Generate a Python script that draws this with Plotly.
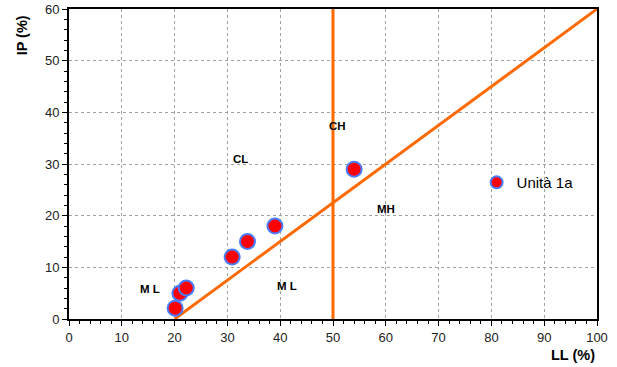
import plotly.graph_objects as go

# Data
ll_values = [20.1, 21.0, 22.2, 30.9, 33.8, 39.0, 54.0]
ip_values = [2.1, 5.0, 6.0, 12.0, 15.0, 18.0, 29.0]
series_name = "Unità 1a"

a_line_x = [20, 100]
a_line_y = [0, 60]
b_line_x = [50, 50]
b_line_y = [0, 60]

zone_labels = ["CL", "CH", "MH", "M L", "M L"]
zone_x = [32.5, 50.8, 60.0, 15.3, 41.3]
zone_y = [31.0, 37.3, 21.3, 5.9, 6.4]

x_ticks = list(range(0, 101, 10))
y_ticks = list(range(0, 61, 10))

orange = "#FF6A00"
font_family = "Liberation Sans, Arial, sans-serif"

fig = go.Figure()
fig.add_trace(go.Scatter(x=a_line_x, y=a_line_y, mode="lines",
                         line=dict(color=orange, width=3), showlegend=False, hoverinfo="skip"))
fig.add_trace(go.Scatter(x=b_line_x, y=b_line_y, mode="lines",
                         line=dict(color=orange, width=3), showlegend=False, hoverinfo="skip"))
fig.add_trace(go.Scatter(x=ll_values, y=ip_values, mode="markers", name=series_name,
                         marker=dict(color="#FF0000", size=15,
                                     line=dict(color="#4A7CFF", width=2))))

for t, x, y in zip(zone_labels, zone_x, zone_y):
    fig.add_annotation(x=x, y=y, text="<b>" + t + "</b>",
                       showarrow=False, font=dict(size=11.5, color="black", family=font_family))

axis_common = dict(
    showline=True, linecolor="black", linewidth=2, mirror=True,
    showgrid=True, gridcolor="#a0a0a0", griddash="dot", gridwidth=1,
    ticks="outside", ticklen=5, tickcolor="black", tickwidth=1,
    zeroline=False,
    tickfont=dict(size=13, color="#222", family=font_family),
)

fig.update_xaxes(range=[0, 100], tickvals=x_ticks,
                 minor=dict(dtick=2, ticks="outside", ticklen=3, tickcolor="black", showgrid=False),
                 **axis_common)
fig.update_yaxes(range=[0, 60], tickvals=y_ticks,
                 minor=dict(dtick=2, ticks="outside", ticklen=3, tickcolor="black", showgrid=False),
                 **axis_common)

fig.add_annotation(xref="paper", yref="paper", x=1.0, y=-0.085, xanchor="right", yanchor="top",
                   text="<b>LL (%)</b>", showarrow=False,
                   font=dict(size=14.5, color="black", family=font_family))
fig.add_annotation(xref="paper", yref="paper", x=-0.089, y=0.915, xanchor="center", yanchor="middle",
                   text="<b>IP (%)</b>", textangle=-90, showarrow=False,
                   font=dict(size=14.5, color="black", family=font_family))

fig.update_layout(
    width=617, height=367,
    margin=dict(l=69, r=20, t=9, b=48, autoexpand=False),
    plot_bgcolor="white", paper_bgcolor="white",
    legend=dict(x=0.772, y=0.44, xanchor="left", yanchor="middle",
                bgcolor="rgba(0,0,0,0)", font=dict(size=15, color="black", family=font_family),
                itemsizing="constant", itemwidth=30),
)

fig.write_html("out.html")
